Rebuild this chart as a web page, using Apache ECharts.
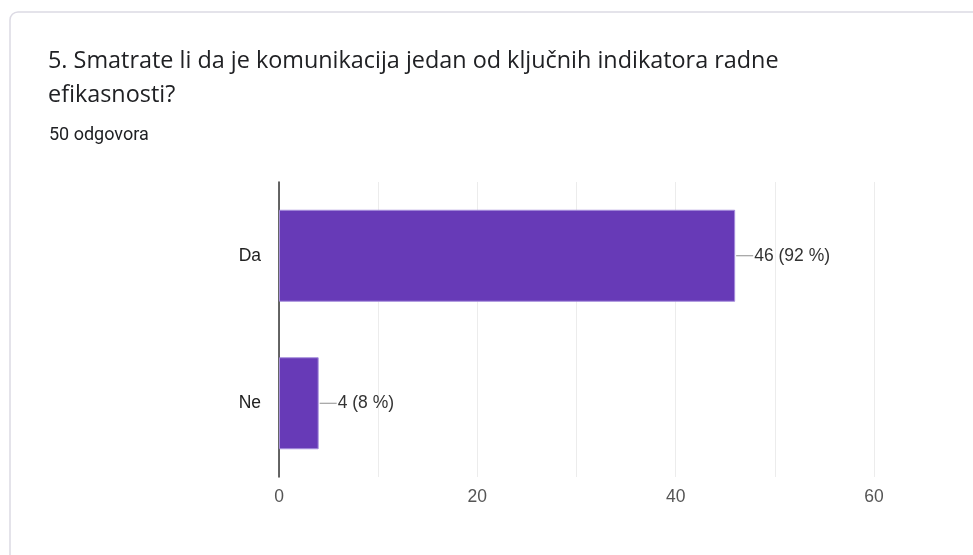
<!DOCTYPE html>
<html>
<head>
<meta charset="utf-8">
<script src="https://cdn.jsdelivr.net/npm/echarts@6/dist/echarts.min.js"></script>
<style>
  html, body { margin: 0; padding: 0; background: #fff; }
  #chart { width: 973px; height: 555px; }
</style>
</head>
<body>
<div id="chart"></div>
<script>
// data
const categories = ['Da', 'Ne']
const counts = [46, 4]
const total = 50
const xTicks = [0, 20, 40, 60]

const titleText = '5. Smatrate li da je komunikacija jedan od ključnih indikatora radne\nefikasnosti?'
const subText = total + ' odgovora'

const chart = echarts.init(document.getElementById('chart'))

chart.setOption({
  backgroundColor: '#fff',
  animation: false,
  graphic: [
    {
      type: 'rect',
      shape: { x: 10, y: 12, width: 1000, height: 600, r: 8 },
      style: { fill: '#fff', stroke: '#dcdae4', lineWidth: 1.5 },
      z: -10
    }
  ],
  title: [
    {
      text: titleText,
      left: 48,
      top: 44,
      padding: 0,
      textStyle: { fontFamily: 'Open Sans', fontSize: 23.4, fontWeight: 'normal', color: '#202124', lineHeight: 34 }
    },
    {
      text: subText,
      left: 49,
      top: 126,
      padding: 0,
      textStyle: { fontFamily: 'Roboto', fontSize: 18, fontWeight: 'normal', color: '#202124' }
    }
  ],
  grid: { left: 279, right: 99, top: 182, bottom: 78 },
  xAxis: {
    type: 'value',
    min: 0,
    max: 60,
    interval: 10,
    axisLine: { show: false },
    axisTick: { show: false },
    splitLine: { show: true, lineStyle: { color: '#ececec', width: 1 } },
    axisLabel: {
      margin: 11,
      color: '#555',
      fontFamily: 'Liberation Sans',
      fontSize: 17.5,
      formatter: v => (xTicks.indexOf(v) >= 0 ? String(v) : '')
    }
  },
  yAxis: {
    type: 'category',
    inverse: true,
    data: categories,
    axisLine: { show: true, lineStyle: { color: '#333', width: 1.5 } },
    axisTick: { show: false },
    axisLabel: { margin: 18, color: '#222', fontFamily: 'Liberation Sans', fontSize: 17.5 }
  },
  series: [
    {
      type: 'bar',
      data: counts,
      barWidth: 92,
      itemStyle: { color: '#673ab7', borderColor: '#a58ddb', borderWidth: 1 },
      label: {
        show: true,
        position: 'right',
        distance: 1,
        formatter: p => '{ln|}{v|' + p.value + ' (' + Math.round(p.value / total * 100) + ' %)}',
        rich: {
          ln: { width: 17, height: 1, backgroundColor: '#8e8e8e' },
          v: { color: '#333', fontFamily: 'Liberation Sans', fontSize: 17.5, padding: [0, 0, 0, 1] }
        }
      }
    }
  ]
})
</script>
</body>
</html>
